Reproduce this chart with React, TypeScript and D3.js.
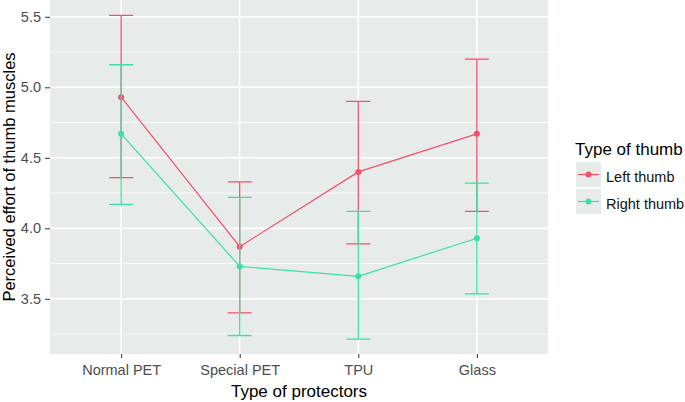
import React, { useEffect, useRef } from 'react';
import * as d3 from 'd3';

// data
const protectors = ['Normal PET', 'Special PET', 'TPU', 'Glass'];
const thumbs = ['Left thumb', 'Right thumb'];
const leftMean = [4.93, 3.87, 4.40, 4.67];
const leftUpper = [5.51, 4.33, 4.90, 5.20];
const leftLower = [4.36, 3.40, 3.89, 4.12];
const rightMean = [4.67, 3.73, 3.66, 3.93];
const rightUpper = [5.16, 4.22, 4.12, 4.32];
const rightLower = [4.17, 3.24, 3.215, 3.535];
const yTicks = [3.5, 4.0, 4.5, 5.0, 5.5];
const colors = ['#F2506C', '#3CE0A6'];

const App = () => {
  const svgRef = useRef<SVGSVGElement>(null);

  useEffect(() => {
    const svg = d3.select(svgRef.current);
    svg.selectAll('*').remove();

    const width = 685;
    const height = 402;
    const panel = { left: 50, right: 548, top: 0, bottom: 354 };
    const font = '"Liberation Sans", Arial, sans-serif';

    const x = d3.scalePoint<string>()
      .domain(protectors)
      .range([panel.left, panel.right])
      .padding(0.6);
    const y = d3.scaleLinear()
      .domain([3.116, 5.619])
      .range([353, panel.top]);

    svg.attr('width', width).attr('height', height);

    // panel background
    svg.append('rect')
      .attr('x', panel.left)
      .attr('y', panel.top)
      .attr('width', panel.right - panel.left)
      .attr('height', panel.bottom - panel.top)
      .attr('fill', '#E7EBE9');

    // minor grid
    const minor = [3.25, 3.75, 4.25, 4.75, 5.25];
    svg.selectAll('.minor')
      .data(minor)
      .enter().append('line')
      .attr('x1', panel.left).attr('x2', panel.right)
      .attr('y1', d => y(d)).attr('y2', d => y(d))
      .attr('stroke', '#fff').attr('stroke-width', 0.8);

    // major grid
    svg.selectAll('.major')
      .data(yTicks)
      .enter().append('line')
      .attr('x1', panel.left).attr('x2', panel.right)
      .attr('y1', d => y(d)).attr('y2', d => y(d))
      .attr('stroke', '#fff').attr('stroke-width', 1.6);
    svg.selectAll('.vmajor')
      .data(protectors)
      .enter().append('line')
      .attr('x1', d => x(d)!).attr('x2', d => x(d)!)
      .attr('y1', panel.top).attr('y2', panel.bottom)
      .attr('stroke', '#fff').attr('stroke-width', 1.6);

    // axes
    const yAxis = svg.append('g')
      .attr('transform', `translate(${panel.left},0)`)
      .call(d3.axisLeft(y).tickValues(yTicks).tickFormat(d3.format('.1f')).tickSize(5).tickPadding(4));
    const xAxis = svg.append('g')
      .attr('transform', `translate(0,${panel.bottom})`)
      .call(d3.axisBottom(x).tickSize(4).tickPadding(7));
    [yAxis, xAxis].forEach(g => {
      g.select('.domain').remove();
      g.selectAll('line').attr('stroke', '#333');
      g.selectAll('text')
        .attr('fill', '#4D4D4D')
        .style('font-family', font)
        .style('font-size', '14.5px');
    });

    svg.append('text')
      .attr('x', (panel.left + panel.right) / 2)
      .attr('y', 397)
      .attr('text-anchor', 'middle')
      .style('font-family', font)
      .style('font-size', '17px')
      .text('Type of protectors');
    svg.append('text')
      .attr('transform', `translate(15,${(panel.top + panel.bottom) / 2}) rotate(-90)`)
      .attr('text-anchor', 'middle')
      .style('font-family', font)
      .style('font-size', '16.5px')
      .text('Perceived effort of thumb muscles');

    const series = [
      { name: thumbs[0], mean: leftMean, upper: leftUpper, lower: leftLower, color: colors[0] },
      { name: thumbs[1], mean: rightMean, upper: rightUpper, lower: rightLower, color: colors[1] },
    ];
    const capHalf = 12;

    series.forEach(s => {
      const g = svg.append('g');
      const rows = protectors.map((p, i) => ({ p, m: s.mean[i], u: s.upper[i], l: s.lower[i] }));

      g.append('path')
        .datum(rows)
        .attr('fill', 'none')
        .attr('stroke', s.color)
        .attr('stroke-width', 1.2)
        .attr('d', d3.line<any>().x(d => x(d.p)!).y(d => y(d.m)));

      g.selectAll('.bar')
        .data(rows)
        .enter().append('path')
        .attr('fill', 'none')
        .attr('stroke', s.color)
        .attr('stroke-width', 1.3)
        .attr('d', d => {
          const cx = x(d.p)!;
          return `M${cx - capHalf},${y(d.u)}H${cx + capHalf}M${cx},${y(d.u)}V${y(d.l)}M${cx - capHalf},${y(d.l)}H${cx + capHalf}`;
        });

      g.selectAll('circle')
        .data(rows)
        .enter().append('circle')
        .attr('cx', d => x(d.p)!)
        .attr('cy', d => y(d.m))
        .attr('r', 3)
        .attr('fill', s.color);
    });

    // legend
    const legend = svg.append('g').attr('transform', 'translate(575,0)');
    legend.append('text')
      .attr('x', 0)
      .attr('y', 155)
      .style('font-family', font)
      .style('font-size', '17px')
      .text('Type of thumb');
    series.forEach((s, i) => {
      const top = 162 + i * 27;
      const item = legend.append('g').attr('transform', `translate(1,${top})`);
      item.append('rect')
        .attr('width', 25).attr('height', 25)
        .attr('fill', '#E7EBE9');
      item.append('line')
        .attr('x1', 2).attr('x2', 23)
        .attr('y1', 12.5).attr('y2', 12.5)
        .attr('stroke', s.color).attr('stroke-width', 1.2);
      item.append('circle')
        .attr('cx', 12.5).attr('cy', 12.5).attr('r', 3)
        .attr('fill', s.color);
      item.append('text')
        .attr('x', 30)
        .attr('y', 20)
        .style('font-family', font)
        .style('font-size', '14.5px')
        .attr('fill', '#111')
        .text(s.name);
    });
  }, []);

  return <svg ref={svgRef} style={{ position: 'absolute', left: 0, top: 0 }} />;
};

export default App;
